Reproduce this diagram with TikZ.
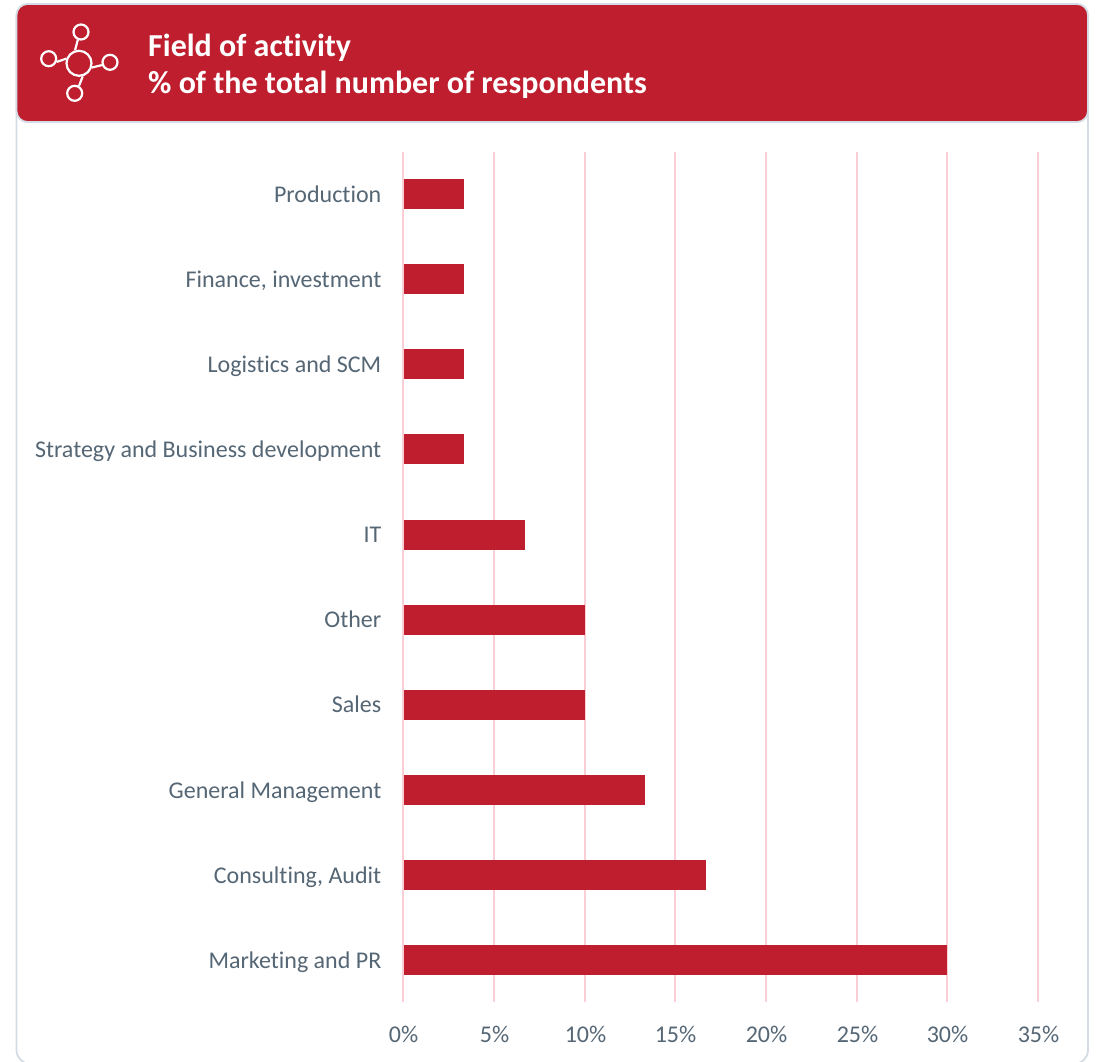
\documentclass[tikz,border=0pt]{standalone}
\usepackage{fontspec}
\setmainfont[RawFeature={-liga;-dlig;-clig}]{Carlito}
\definecolor{brandred}{HTML}{BE1E2D}
\definecolor{gridpink}{HTML}{F9CFD5}
\definecolor{cardline}{HTML}{D5DBE5}
\definecolor{labelgrey}{HTML}{556675}
\tikzset{
  bar/.style={fill=brandred,draw=none},
  gridline/.style={draw=gridpink,line width=2pt},
  catlabel/.style={anchor=base east,text=labelgrey,font=\fontsize{24}{26}\selectfont,inner sep=0pt},
  ticklabel/.style={anchor=base,text=labelgrey,font=\fontsize{24}{26}\selectfont,inner sep=0pt},
  titletext/.style={anchor=base west,text=white,font=\bfseries\fontsize{32}{36}\selectfont,inner sep=0pt},
  iconline/.style={draw=white,line width=2.2pt},
  iconnode/.style={circle,draw=white,line width=2.2pt,inner sep=0pt,minimum size=#1},
}
\begin{document}
\begin{tikzpicture}[x=1pt,y=-1pt]
\useasboundingbox (0,0) rectangle (1099,1061);
\fill[white] (0,0) rectangle (1099,1061);
% card
\draw[cardline,line width=1.8pt,rounded corners=14pt] (16.5,4) rectangle (1088,1064);
\draw[cardline,line width=1.8pt,rounded corners=11pt,fill=brandred] (16.5,4) rectangle (1088,122);
% icon
\node[iconnode=25pt] (hub) at (79,63.3) {};
\node[iconnode=15pt] (n1) at (81,32) {};
\node[iconnode=15pt] (n2) at (48.7,58.7) {};
\node[iconnode=15pt] (n3) at (110,62.3) {};
\node[iconnode=15pt] (n4) at (74.7,93.3) {};
\draw[iconline] (hub.107) -- (n1.248);
\draw[iconline] (hub.160) -- (n2.-22);
\draw[iconline] (hub.-18) -- (n3.199);
\draw[iconline] (hub.-74) -- (n4.60);
% title
\node[titletext] (t1) at (148,56.5) {Field of activity};
\node[titletext] (t2) at (148,93.5) {\% of the total number of respondents};
% grid
\foreach \x/\l/\n in {403/0/g0,494/5/g1,585/10/g2,675/15/g3,766/20/g4,857/25/g5,947/30/g6,1038/35/g7}{
  \coordinate (\n top) at (\x,152);
  \coordinate (\n bot) at (\x,1002);
  \draw[gridline] (\n top) -- (\n bot);
  \node[ticklabel] (\n lab) at (\x+0.5,1042) {\l\%};
}
% bars
\foreach \name/\y/\xe/\txt in {
  b1/194/464/Production,
  b2/279/464/{Finance, investment},
  b3/364/464/Logistics and SCM,
  b4/449/464/Strategy and Business development,
  b5/534.5/525/IT,
  b6/619.5/585/Other,
  b7/704.5/585/Sales,
  b8/790/645/General Management,
  b9/875/706/{Consulting, Audit},
  b10/960/947/Marketing and PR}{
  \fill[bar] (404,\y-15) rectangle (\xe,\y+15);
  \node[catlabel] (\name) at (381.5,\y+8) {\txt};
}
\end{tikzpicture}
\end{document}
